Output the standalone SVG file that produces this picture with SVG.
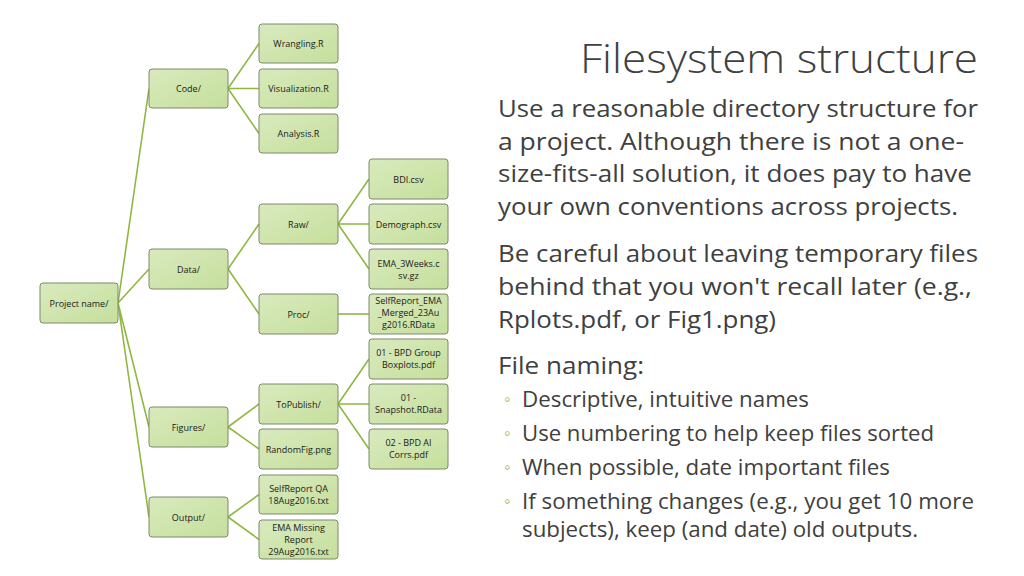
<svg xmlns="http://www.w3.org/2000/svg" width="1024" height="576" viewBox="0 0 1024 576">
<defs>
<linearGradient id="g" x1="0" y1="0" x2="1" y2="1"><stop offset="0" stop-color="#d9eabe"/><stop offset="1" stop-color="#c5df9c"/></linearGradient>
<style>
.n rect{fill:url(#g);stroke:#7d8a6a;stroke-width:1}
.n text{font-family:"Open Sans","Liberation Sans",sans-serif;font-size:9px;fill:#1a1a1a;text-anchor:middle}
#edges path{stroke:#8fb840;stroke-width:1.6;fill:none}
.t{font-family:"Open Sans","Noto Sans",sans-serif;fill:#404040;font-size:23px}
.h{font-family:"Open Sans","Noto Sans",sans-serif;fill:#404040;font-size:40px;font-weight:300}
</style>
</defs>
<rect width="1024" height="576" fill="#fff"/>
<g id="edges">
<path d="M118 303L149 88.5M118 303L149 269M118 303L149 427M118 303L149 517"/>
<path d="M228 88.5L259 43.5M228 88.5L259 88.5M228 88.5L259 133.5"/>
<path d="M228 269L259 224M228 269L259 314"/>
<path d="M228 427L259 404M228 427L259 449"/>
<path d="M228 517L259 494.5M228 517L259 539.5"/>
<path d="M338 224L369 179M338 224L369 224M338 224L369 269"/>
<path d="M338 314L369 314"/>
<path d="M338 404L369 359M338 404L369 404M338 404L369 449"/>
</g>
<g id="root" class="n"><rect x="40" y="283" width="78" height="40" rx="3"/><text x="79" y="306.5">Project name/</text></g>
<g id="code" class="n"><rect x="149" y="69" width="79" height="39" rx="3"/><text x="188.5" y="92">Code/</text></g>
<g id="data" class="n"><rect x="149" y="249" width="79" height="40" rx="3"/><text x="188.5" y="272.5">Data/</text></g>
<g id="figures" class="n"><rect x="149" y="407" width="79" height="40" rx="3"/><text x="188.5" y="430.5">Figures/</text></g>
<g id="output" class="n"><rect x="149" y="497" width="79" height="40" rx="3"/><text x="188.5" y="520.5">Output/</text></g>
<g id="wrangling" class="n"><rect x="259" y="24" width="79" height="39" rx="3"/><text x="298.5" y="47">Wrangling.R</text></g>
<g id="visualization" class="n"><rect x="259" y="69" width="79" height="39" rx="3"/><text x="298.5" y="92">Visualization.R</text></g>
<g id="analysis" class="n"><rect x="259" y="114" width="79" height="39" rx="3"/><text x="298.5" y="137">Analysis.R</text></g>
<g id="raw" class="n"><rect x="259" y="204" width="79" height="40" rx="3"/><text x="298.5" y="227.5">Raw/</text></g>
<g id="proc" class="n"><rect x="259" y="294" width="79" height="40" rx="3"/><text x="298.5" y="317.5">Proc/</text></g>
<g id="topublish" class="n"><rect x="259" y="384" width="79" height="40" rx="3"/><text x="298.5" y="407.5">ToPublish/</text></g>
<g id="randomfig" class="n"><rect x="259" y="429" width="79" height="40" rx="3"/><text x="298.5" y="452.5">RandomFig.png</text></g>
<g id="selfreportqa" class="n"><rect x="259" y="475" width="79" height="39" rx="3"/><text x="298.5" y="492">SelfReport QA</text><text x="298.5" y="504">18Aug2016.txt</text></g>
<g id="emamissing" class="n"><rect x="259" y="520" width="79" height="39" rx="3"/><text x="298.5" y="531">EMA Missing</text><text x="298.5" y="543">Report</text><text x="298.5" y="555">29Aug2016.txt</text></g>
<g id="bdi" class="n"><rect x="369" y="159" width="79" height="40" rx="3"/><text x="408.5" y="182.5">BDI.csv</text></g>
<g id="demograph" class="n"><rect x="369" y="204" width="79" height="40" rx="3"/><text x="408.5" y="227.5">Demograph.csv</text></g>
<g id="ema3" class="n"><rect x="369" y="249" width="79" height="40" rx="3"/><text x="408.5" y="267">EMA_3Weeks.c</text><text x="408.5" y="279">sv.gz</text></g>
<g id="selfreportema" class="n"><rect x="369" y="294" width="79" height="40" rx="3"/><text x="408.5" y="304">SelfReport_EMA</text><text x="408.5" y="316">_Merged_23Au</text><text x="408.5" y="328">g2016.RData</text></g>
<g id="bpd01" class="n"><rect x="369" y="339" width="79" height="40" rx="3"/><text x="408.5" y="356">01 - BPD Group</text><text x="408.5" y="368">Boxplots.pdf</text></g>
<g id="snapshot" class="n"><rect x="369" y="384" width="79" height="40" rx="3"/><text x="408.5" y="401">01 -</text><text x="408.5" y="413">Snapshot.RData</text></g>
<g id="bpd02" class="n"><rect x="369" y="429" width="79" height="40" rx="3"/><text x="408.5" y="446">02 - BPD AI</text><text x="408.5" y="458">Corrs.pdf</text></g>
<text class="h" x="580" y="73" textLength="398" lengthAdjust="spacingAndGlyphs">Filesystem structure</text>
<g class="t">
<text x="498" y="117" textLength="480" lengthAdjust="spacingAndGlyphs">Use a reasonable directory structure for</text>
<text x="498" y="150" textLength="466" lengthAdjust="spacingAndGlyphs">a project. Although there is not a one-</text>
<text x="498" y="182" textLength="474" lengthAdjust="spacingAndGlyphs">size-fits-all solution, it does pay to have</text>
<text x="498" y="215" textLength="460" lengthAdjust="spacingAndGlyphs">your own conventions across projects.</text>
<text x="498" y="262" textLength="480" lengthAdjust="spacingAndGlyphs">Be careful about leaving temporary files</text>
<text x="498" y="295" textLength="474" lengthAdjust="spacingAndGlyphs">behind that you won't recall later (e.g.,</text>
<text x="498" y="328" textLength="278" lengthAdjust="spacingAndGlyphs">Rplots.pdf, or Fig1.png)</text>
<text x="498" y="374" textLength="146" lengthAdjust="spacingAndGlyphs">File naming:</text>
</g>
<g class="t" style="font-size:21px">
<text x="504" y="405" fill="#8fb840" style="font-size:18px">◦</text>
<text x="504" y="439" fill="#8fb840" style="font-size:18px">◦</text>
<text x="504" y="473" fill="#8fb840" style="font-size:18px">◦</text>
<text x="504" y="507" fill="#8fb840" style="font-size:18px">◦</text>
<text x="522" y="407" textLength="287" lengthAdjust="spacingAndGlyphs">Descriptive, intuitive names</text>
<text x="522" y="441" textLength="412" lengthAdjust="spacingAndGlyphs">Use numbering to help keep files sorted</text>
<text x="522" y="475" textLength="368" lengthAdjust="spacingAndGlyphs">When possible, date important files</text>
<text x="522" y="509" textLength="452" lengthAdjust="spacingAndGlyphs">If something changes (e.g., you get 10 more</text>
<text x="522" y="537" textLength="396" lengthAdjust="spacingAndGlyphs">subjects), keep (and date) old outputs.</text>
</g>
</svg>
